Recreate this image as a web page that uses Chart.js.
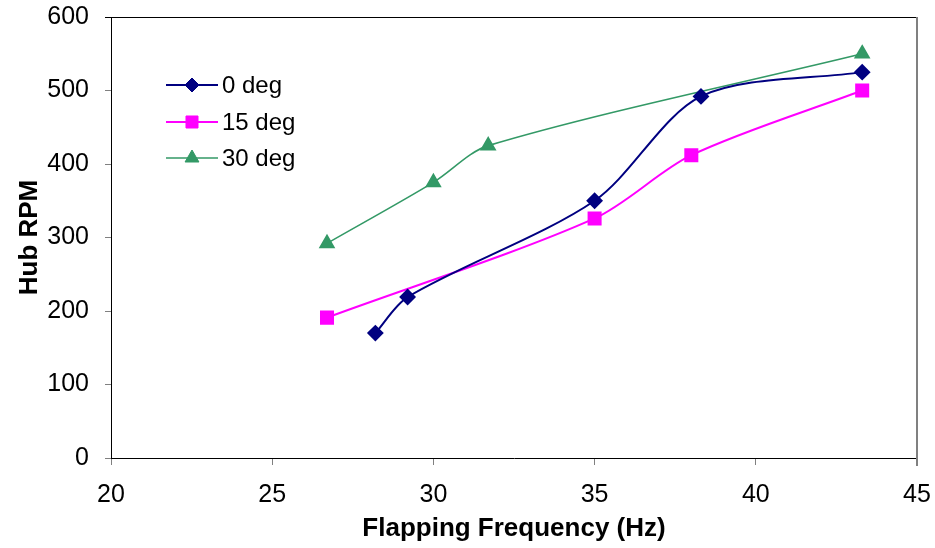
<!DOCTYPE html>
<html>
<head>
<meta charset="utf-8">
<script src="https://cdn.jsdelivr.net/npm/chart.js@4/dist/chart.umd.min.js"></script>
<style>
  html, body { margin: 0; padding: 0; background: #fff; }
  #wrap { width: 935px; height: 548px; }
</style>
</head>
<body>
<div id="wrap"><canvas id="hubChart"></canvas></div>
<script>
// --- data ---
const seriesNames = ['0 deg', '15 deg', '30 deg'];

const freq0 = [28.2, 29.2, 35.0, 38.3, 43.3];
const rpm0 = [170, 219, 350, 492, 525];

const freq15 = [26.7, 35.0, 38.0, 43.3];
const rpm15 = [191, 326, 412, 500];

const freq30 = [26.7, 30.0, 31.7, 43.3];
const rpm30 = [292, 375, 425, 550];

const xTicks = [20, 25, 30, 35, 40, 45];
const yTicks = [0, 100, 200, 300, 400, 500, 600];

const FONT = '"Liberation Sans", Arial, sans-serif';

function toPoints(xs, ys) {
  return xs.map((x, i) => ({ x: x, y: ys[i] }));
}

// legend drawn inside the plot, Excel style (line + marker)
const insideLegend = {
  id: 'insideLegend',
  afterDatasetsDraw(chart) {
    const ctx = chart.ctx;
    const x0 = 166, x1 = 218, rowY = [85, 122, 158];
    chart.data.datasets.forEach((ds, i) => {
      const y = rowY[i];
      ctx.save();
      ctx.strokeStyle = ds.borderColor;
      ctx.lineWidth = ds.borderWidth;
      ctx.beginPath();
      ctx.moveTo(x0, y);
      ctx.lineTo(x1, y);
      ctx.stroke();
      ctx.fillStyle = ds.pointBackgroundColor;
      ctx.strokeStyle = ds.pointBorderColor;
      ctx.lineWidth = 1;
      Chart.helpers.drawPoint(ctx, {
        pointStyle: ds.pointStyle,
        radius: ds.pointRadius,
        borderWidth: 1
      }, (x0 + x1) / 2, y);
      ctx.fillStyle = '#000';
      ctx.font = '24px ' + FONT;
      ctx.textBaseline = 'middle';
      ctx.fillText(ds.label, 222, y + 1);
      ctx.restore();
    });
  }
};

// top border and grey right border of the plot area
const plotFrame = {
  id: 'plotFrame',
  beforeDatasetsDraw(chart) {
    const a = chart.chartArea;
    const ctx = chart.ctx;
    ctx.save();
    ctx.lineWidth = 1;
    ctx.strokeStyle = '#000';
    ctx.beginPath();
    ctx.moveTo(a.left - 6, a.top + 0.5);
    ctx.lineTo(a.right, a.top + 0.5);
    ctx.stroke();
    ctx.strokeStyle = '#808080';
    ctx.lineWidth = 2;
    ctx.beginPath();
    ctx.moveTo(a.right, a.top);
    ctx.lineTo(a.right, a.bottom + 8);
    ctx.stroke();
    ctx.restore();
  }
};

const ctx = document.getElementById('hubChart').getContext('2d');

new Chart(ctx, {
  type: 'line',
  data: {
    datasets: [
      {
        label: seriesNames[0],
        data: toPoints(freq0, rpm0),
        borderColor: '#000080',
        backgroundColor: '#000080',
        pointBackgroundColor: '#000080',
        pointBorderColor: '#000080',
        pointStyle: 'rectRot',
        pointRadius: 7,
        borderWidth: 2,
        tension: 0.3
      },
      {
        label: seriesNames[1],
        data: toPoints(freq15, rpm15),
        borderColor: '#FF00FF',
        backgroundColor: '#FF00FF',
        pointBackgroundColor: '#FF00FF',
        pointBorderColor: '#FF00FF',
        pointStyle: 'rect',
        pointRadius: 8.5,
        borderWidth: 2,
        tension: 0.3
      },
      {
        label: seriesNames[2],
        data: toPoints(freq30, rpm30),
        borderColor: '#339966',
        backgroundColor: '#339966',
        pointBackgroundColor: '#339966',
        pointBorderColor: '#339966',
        pointStyle: 'triangle',
        pointRadius: 8,
        borderWidth: 1.6,
        tension: 0.3
      }
    ]
  },
  options: {
    responsive: true,
    maintainAspectRatio: false,
    animation: false,
    layout: { padding: { top: 17, right: 18, bottom: 4, left: 14 } },
    plugins: {
      legend: { display: false },
      tooltip: { enabled: false }
    },
    scales: {
      x: {
        type: 'linear',
        min: 20,
        max: 45,
        afterBuildTicks: axis => { axis.ticks = xTicks.map(v => ({ value: v })); },
        afterFit: axis => {
          axis.height = 86;
          axis.paddingLeft = 0;
          axis.paddingRight = 0;
        },
        border: { color: '#000', width: 1 },
        grid: { drawOnChartArea: false, drawTicks: true, tickLength: 7, color: '#808080' },
        ticks: {
          color: '#000',
          padding: 15,
          font: { size: 25, family: FONT }
        },
        title: {
          display: true,
          text: 'Flapping Frequency (Hz)',
          color: '#000',
          padding: { top: 0, bottom: 0 },
          font: { size: 26, weight: 'bold', family: FONT }
        }
      },
      y: {
        min: 0,
        max: 600,
        afterBuildTicks: axis => { axis.ticks = yTicks.map(v => ({ value: v })); },
        afterFit: axis => {
          axis.width = 97;
          axis.paddingTop = 0;
          axis.paddingBottom = 0;
        },
        border: { color: '#000', width: 1 },
        grid: { drawOnChartArea: false, drawTicks: true, tickLength: 6, color: '#808080' },
        ticks: {
          color: '#000',
          padding: 16,
          font: { size: 25, family: FONT }
        },
        title: {
          display: true,
          text: 'Hub RPM',
          color: '#000',
          padding: { top: 0, bottom: 0 },
          font: { size: 26, weight: 'bold', family: FONT }
        }
      }
    }
  },
  plugins: [plotFrame, insideLegend]
});
</script>
</body>
</html>
